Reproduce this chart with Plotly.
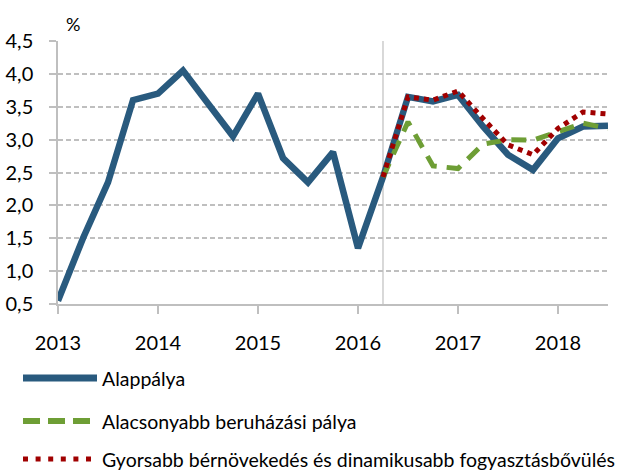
import plotly.graph_objects as go

# Quarterly data, 2013 Q1 .. 2018 Q3
quarters = [2013 + i / 4 for i in range(23)]
alappalya = [0.55, 1.5, 2.35, 3.6, 3.7, 4.05, 3.55, 3.05, 3.7, 2.72, 2.35, 2.81, 1.35,
             2.43, 3.65, 3.58, 3.68, 3.2, 2.77, 2.54, 3.02, 3.2, 3.21]
alacsonyabb = [None] * 13 + [2.43, 3.27, 2.6, 2.56, 2.93, 3.0, 2.99, 3.12, 3.25, 3.17]
gyorsabb = [None] * 13 + [2.43, 3.65, 3.6, 3.74, 3.32, 2.92, 2.77, 3.17, 3.42, 3.39]

year_ticks = [2013, 2014, 2015, 2016, 2017, 2018]
y_ticks = [0.5, 1.0, 1.5, 2.0, 2.5, 3.0, 3.5, 4.0, 4.5]
names = ["Alappálya", "Alacsonyabb beruházási pálya",
         "Gyorsabb bérnövekedés és dinamikusabb fogyasztásbővülés"]
forecast_start = 2016.25

BLUE = "#295A7E"
GREEN = "#6E9E35"
RED = "#A00000"
GRID = "#BFBFBF"
FONT = "Lato"

fig = go.Figure()
fig.add_trace(go.Scatter(x=quarters, y=alappalya, mode="lines", name=names[0],
                         line=dict(color=BLUE, width=6.5), showlegend=False))
fig.add_trace(go.Scatter(x=quarters, y=alacsonyabb, mode="lines", name=names[1],
                         line=dict(color=GREEN, width=5, dash="15px,10px"), showlegend=False))
fig.add_trace(go.Scatter(x=quarters, y=gyorsabb, mode="lines", name=names[2],
                         line=dict(color=RED, width=5, dash="5px,5px"), showlegend=False))

L, R, T, B = 58, 18, 41, 169
W, H = 626, 473
pw, ph = W - L - R, H - T - B


def px_x(px):
    return (px - L) / pw


def px_y(py):
    return (H - B - py) / ph


shapes = [
    dict(type="line", xref="x", yref="y", x0=forecast_start, x1=forecast_start,
         y0=0.5, y1=4.5, line=dict(color=GRID, width=1.2), layer="below"),
]
annotations = [
    dict(text="%", xref="paper", yref="paper", x=px_x(73), y=px_y(24), showarrow=False,
         font=dict(family=FONT, size=18, color="#000"), xanchor="center", yanchor="middle"),
]
legend_rows = [378, 421, 459]
legend_styles = [
    dict(color=BLUE, width=7, dash="solid"),
    dict(color=GREEN, width=6, dash="17px,8px"),
    dict(color=RED, width=5, dash="5px,7.6px"),
]
for name, ly, st in zip(names, legend_rows, legend_styles):
    shapes.append(dict(type="line", xref="paper", yref="paper", x0=px_x(23), x1=px_x(97),
                       y0=px_y(ly), y1=px_y(ly), line=st))
    annotations.append(dict(text=name, xref="paper", yref="paper", x=px_x(100), y=px_y(ly),
                            showarrow=False, xanchor="left", yanchor="middle",
                            font=dict(family=FONT, size=19.5, color="#000")))

fig.update_layout(
    width=W, height=H,
    margin=dict(l=L, r=R, t=T, b=B, autoexpand=False),
    paper_bgcolor="white", plot_bgcolor="white",
    separators=", ",
    font=dict(family=FONT, size=20, color="#000"),
    showlegend=False,
    shapes=shapes,
    annotations=annotations,
    xaxis=dict(range=[2013, 2018.5], tickvals=year_ticks, ticktext=[str(y) for y in year_ticks],
               showgrid=False, zeroline=False, showline=True, linecolor=GRID, linewidth=1.5,
               ticks="outside", ticklen=8, tickcolor=GRID, tickwidth=1.5, automargin=False,
               ticklabelstandoff=12, tickfont=dict(family=FONT, size=20)),
    yaxis=dict(range=[0.5, 4.5], tickvals=y_ticks, tickformat=".1f",
               showgrid=True, gridcolor=GRID, griddash="5px,3px", gridwidth=1.5,
               zeroline=False, showline=True, linecolor=GRID, linewidth=1.5,
               ticks="outside", ticklen=7, tickcolor=GRID, tickwidth=1.5, automargin=False,
               ticklabelstandoff=12, tickfont=dict(family=FONT, size=20)),
)

fig.write_html("out.html", config={"displayModeBar": False},
               post_script="document.body.style.margin='0';")
